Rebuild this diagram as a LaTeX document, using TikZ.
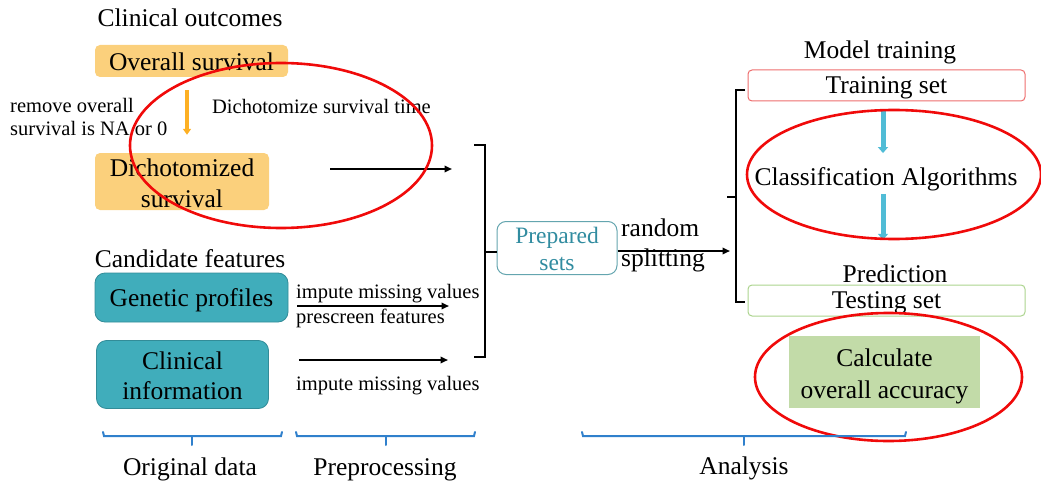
\documentclass[tikz,border=0pt]{standalone}
\usepackage{fontspec}
\setmainfont{Liberation Serif}
\usetikzlibrary{arrows.meta,calc}

\definecolor{orfill}{RGB}{251,208,124}
\definecolor{orarrow}{RGB}{253,176,36}
\definecolor{tealfill}{RGB}{64,173,187}
\definecolor{tealdraw}{RGB}{50,140,152}
\definecolor{tealtext}{RGB}{49,140,160}
\definecolor{tealline}{RGB}{100,165,175}
\definecolor{cyanarrow}{RGB}{80,188,214}
\definecolor{trainline}{RGB}{238,110,110}
\definecolor{testline}{RGB}{172,212,142}
\definecolor{accfill}{RGB}{194,219,168}
\definecolor{bracecol}{RGB}{48,128,204}
\definecolor{ringred}{RGB}{240,10,10}

\tikzset{
  bigtxt/.style={font=\fontsize{25.5}{30.5}\selectfont, inner sep=0pt, align=center},
  smalltxt/.style={font=\fontsize{20.5}{23}\selectfont, inner sep=0pt, align=left},
  orbox/.style={bigtxt, fill=orfill, rounded corners=5pt},
  tealbox/.style={bigtxt, fill=tealfill, draw=tealdraw, line width=0.8pt, rounded corners=10pt},
  linebox/.style={bigtxt, fill=white, line width=1pt, rounded corners=4pt},
  flow/.style={draw=black, line width=2pt, -{Triangle[length=7.5pt,width=6.5pt]}},
  bracket/.style={draw=black, line width=1.4pt},
  phase/.style={draw=bracecol, line width=2pt, line cap=round},
  ring/.style={draw=ringred, line width=2.6pt},
}
% invisible strut that lowers the text inside a box
\newcommand{\lowerby}[1]{\rule{0pt}{#1}}

\begin{document}
\begin{tikzpicture}[x=1pt,y=-1pt]
\useasboundingbox (0,0) rectangle (1041,484);

% ---------- original data ----------
\node[bigtxt] (outcomes) at (190,18) {Clinical outcomes};
\node[orbox, minimum width=193pt, minimum height=32pt] (os) at (191.5,61) {\lowerby{20pt}Overall survival};
\node[orbox, minimum width=174pt, minimum height=57pt] (ds) at (182,181.5) {\lowerby{21pt}Dichotomized\\survival};
\node[smalltxt, anchor=west] (remove) at (10,116.5) {remove overall\\survival is NA or 0};
\node[smalltxt] (dichot) at (321.5,106) {Dichotomize survival time};

\draw[draw=orarrow, line width=4pt, -{Triangle[length=6pt,width=8pt]}]
  ([xshift=-4.5pt,yshift=-13pt]os.south) -- ([xshift=5pt,yshift=18pt]ds.north);

\node[bigtxt] (candidates) at (190,259) {Candidate features};
\node[tealbox, minimum width=193pt, minimum height=49pt] (gen) at (191.5,297.5) {\lowerby{23.5pt}Genetic profiles};
\node[tealbox, minimum width=172pt, minimum height=68pt] (clin) at (182.5,374.5) {\lowerby{20pt}Clinical\\information};

% ---------- preprocessing ----------
\coordinate (dsin) at (452,169);
\coordinate (genin) at (449,306);
\coordinate (clinin) at (448,360);
\draw[flow] ([xshift=61pt,yshift=12.5pt]ds.east) -- (dsin);
\draw[flow] ([xshift=9pt,yshift=-8.5pt]gen.east) -- (genin);
\draw[flow] ([xshift=30pt,yshift=14.5pt]clin.east) -- (clinin);

\node[smalltxt, anchor=west] (impg) at (296,294) {impute missing values};
\node[smalltxt, anchor=west] (prescreen) at (296,318) {prescreen features};
\node[smalltxt, anchor=west] (impc) at (296,386) {impute missing values};

% ---------- prepared sets ----------
\node[bigtxt, font=\fontsize{23.5}{27}\selectfont, text=tealtext, draw=tealline, line width=1pt,
      fill=white, rounded corners=9pt, minimum width=120pt, minimum height=53pt] (prep) at (557,248) {\lowerby{19pt}Prepared\\sets};

\draw[bracket] (474,145) -- (485,145) -- (485,357) -- (474,357);
\draw[bracket] (485,252) -- (prep.west |- 0,252);

\coordinate (split) at (730,251);
\draw[flow] ([yshift=-3pt]prep.east) -- (split);
\node[bigtxt, anchor=west] (random) at (621,228) {random};
\node[bigtxt, anchor=west] (splitting) at (621,260) {splitting};

% ---------- analysis ----------
\draw[bracket] (745,90) -- (736,90) -- (736,302) -- (745,302);
\draw[bracket] (736,197) -- (727,197);

\node[bigtxt] (mtrain) at (880,52.5) {Model training};
\node[linebox, draw=trainline, minimum width=277pt, minimum height=31pt] (train) at (886.5,85.5) {\lowerby{22pt}Training set};
\node[bigtxt] (classif) at (886,179) {Classification Algorithms};
\node[bigtxt] (pred) at (895,274) {Prediction};
\node[linebox, draw=testline, minimum width=277pt, minimum height=31pt] (test) at (886.5,300.5) {\lowerby{22pt}Testing set};
\node[bigtxt, font=\fontsize{25.5}{32}\selectfont, fill=accfill, minimum width=191pt, minimum height=72pt] (acc) at (884.5,372) {\lowerby{26pt}Calculate\\overall accuracy};

\draw[draw=cyanarrow, line width=5pt, -{Triangle[length=6pt,width=10pt]}, shorten <=9pt, shorten >=14pt]
  ([xshift=-3.5pt]train.south) -- ([xshift=-3pt]classif.north);
\draw[draw=cyanarrow, line width=5pt, -{Triangle[length=6pt,width=10pt]}, shorten <=3pt, shorten >=25pt]
  ([xshift=-3pt]classif.south) -- ([xshift=-12pt]pred.north);

% ---------- highlight rings ----------
\draw[ring] (281,145.5) ellipse [x radius=151, y radius=82.5];
\draw[ring] (894,174.5) ellipse [x radius=147, y radius=64.5];
\draw[ring] (888.5,377) ellipse [x radius=133.5, y radius=64];

% ---------- phase braces ----------
\draw[phase] (103,432) -- (104,436) -- (281,436) -- (282,432);
\draw[phase] (192,436) -- (192,445);
\draw[phase] (296,432) -- (297,436) -- (474,436) -- (475,432);
\draw[phase] (386,436) -- (386,445);
\draw[phase] (582,432) -- (583,436) -- (905,436) -- (906,432);
\draw[phase] (744,436) -- (744,445);

\node[bigtxt] (orig) at (190,469.5) {Original data};
\node[bigtxt] (prepro) at (385,469.5) {Preprocessing};
\node[bigtxt] (analysis) at (744,468.5) {Analysis};
\end{tikzpicture}
\end{document}
